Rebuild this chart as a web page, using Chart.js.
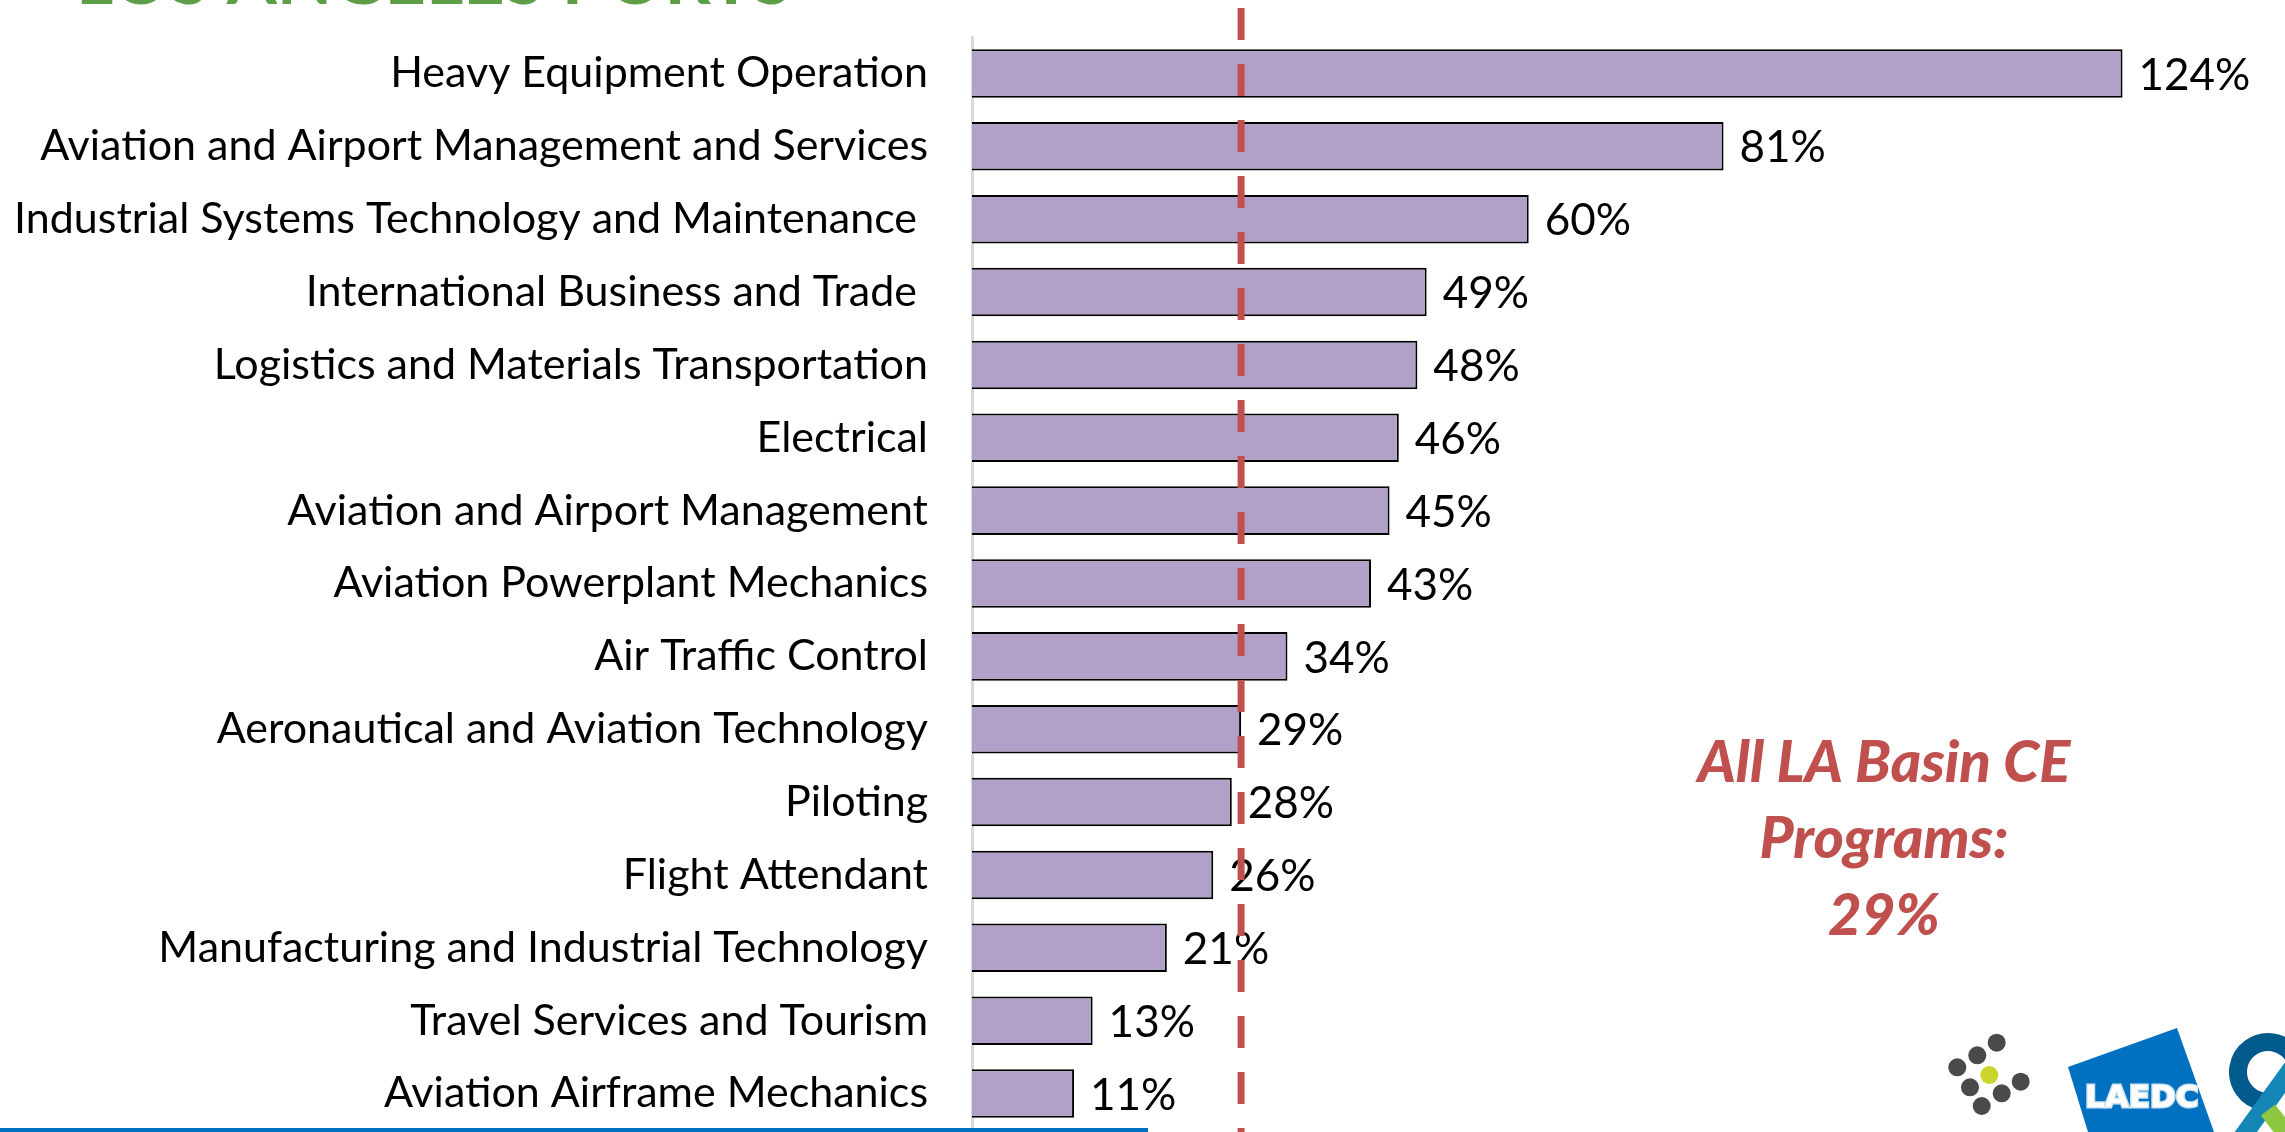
<!DOCTYPE html>
<html>
<head>
<meta charset="utf-8">
<script src="https://cdn.jsdelivr.net/npm/chart.js@4.4.1/dist/chart.umd.min.js"></script>
<style>
  html, body { margin: 0; padding: 0; background: #ffffff; }
  #wrap { width: 2285px; height: 1132px; position: relative; }
</style>
</head>
<body>
<div id="wrap"><canvas id="c" width="2285" height="1132"></canvas></div>
<script>
const categories = [
  "Heavy Equipment Operation",
  "Aviation and Airport Management and Services",
  "Industrial Systems Technology and Maintenance ",
  "International Business and Trade ",
  "Logistics and Materials Transportation",
  "Electrical",
  "Aviation and Airport Management",
  "Aviation Powerplant Mechanics",
  "Air Traffic Control",
  "Aeronautical and Aviation Technology",
  "Piloting",
  "Flight Attendant",
  "Manufacturing and Industrial Technology",
  "Travel Services and Tourism",
  "Aviation Airframe Mechanics"
];
const values = [124, 81, 60, 49, 48, 46, 45, 43, 34, 29, 28, 26, 21, 13, 11];
const averageValue = 29;
const annotationLines = ["All LA Basin CE", "Programs:", "29%"];
const titleText = "LOS ANGELES PORTS";
const logoText = "LAEDC";

const LABEL_FONT = "44px Lato";
const RED = "#C0504D";

const overlayPlugin = {
  id: "overlay",
  afterDatasetsDraw(chart) {
    const ctx = chart.ctx;
    const meta = chart.getDatasetMeta(0);
    const xs = chart.scales.x;
    ctx.save();
    ctx.font = LABEL_FONT;
    ctx.fillStyle = "#000";
    ctx.textAlign = "left";
    ctx.textBaseline = "middle";
    meta.data.forEach((bar, i) => {
      ctx.fillText(values[i] + "%", bar.x + 16, bar.y + 2);
    });
    const ax = xs.getPixelForValue(averageValue);
    ctx.strokeStyle = RED;
    ctx.lineWidth = 7;
    ctx.setLineDash([32, 24]);
    ctx.beginPath();
    ctx.moveTo(ax, 8);
    ctx.lineTo(ax, chart.height);
    ctx.stroke();
    ctx.setLineDash([]);
    ctx.restore();
  },
  afterDraw(chart) {
    const ctx = chart.ctx;
    ctx.save();
    ctx.fillStyle = RED;
    ctx.font = "italic 900 58px Lato";
    ctx.textAlign = "center";
    ctx.textBaseline = "alphabetic";
    const baseY = [782, 858, 935];
    annotationLines.forEach((t, i) => ctx.fillText(t, 1884, baseY[i]));

    ctx.fillStyle = "#5E9E46";
    ctx.font = "bold 72px Lato";
    ctx.textAlign = "right";
    ctx.fillText(titleText, 792, 4);

    ctx.fillStyle = "#0070C0";
    ctx.fillRect(0, 1128, 1148, 4);

    const dots = [
      [1996.7, 1042.7, 0], [1977.3, 1055.3, 0], [1957.3, 1067.3, 0],
      [1989.3, 1075, 1], [1970, 1087.3, 0], [2001.7, 1093.3, 0],
      [2020.7, 1081.7, 0], [1981.7, 1106, 0]
    ];
    dots.forEach(d => {
      ctx.fillStyle = d[2] ? "#C9D52A" : "#4A4A4A";
      ctx.beginPath();
      ctx.arc(d[0], d[1], 9, 0, Math.PI * 2);
      ctx.fill();
    });

    ctx.fillStyle = "#0070C0";
    ctx.beginPath();
    ctx.moveTo(2068, 1067);
    ctx.lineTo(2177, 1028);
    ctx.lineTo(2214, 1132);
    ctx.lineTo(2088, 1132);
    ctx.closePath();
    ctx.fill();
    ctx.font = "bold 31px 'DejaVu Sans'";
    ctx.textAlign = "left";
    ctx.textBaseline = "middle";
    ctx.lineWidth = 3;
    ctx.strokeStyle = "#cfe3f3";
    ctx.strokeText(logoText, 2085, 1099);
    ctx.fillStyle = "#ffffff";
    ctx.fillText(logoText, 2085, 1099);

    ctx.lineCap = "butt";
    ctx.strokeStyle = "#005A8B";
    ctx.lineWidth = 18;
    ctx.beginPath();
    ctx.arc(2268, 1072, 30, Math.PI * 0.55, Math.PI * 1.9);
    ctx.stroke();
    ctx.strokeStyle = "#1386B6";
    ctx.beginPath();
    ctx.moveTo(2292, 1068);
    ctx.lineTo(2240, 1140);
    ctx.stroke();
    ctx.strokeStyle = "#8DC63F";
    ctx.beginPath();
    ctx.moveTo(2268, 1110);
    ctx.lineTo(2288, 1136);
    ctx.stroke();
    ctx.restore();
  }
};

new Chart(document.getElementById("c"), {
  type: "bar",
  data: {
    labels: categories,
    datasets: [{
      data: values,
      backgroundColor: "#B1A0C7",
      borderColor: "#000000",
      borderWidth: 2,
      barPercentage: 0.666,
      categoryPercentage: 1.0
    }]
  },
  options: {
    indexAxis: "y",
    responsive: false,
    animation: false,
    layout: { padding: { top: 37, bottom: 2, left: 0, right: 14 } },
    plugins: { legend: { display: false }, tooltip: { enabled: false } },
    scales: {
      x: {
        display: false,
        min: 0,
        max: 140
      },
      y: {
        grid: { display: false, drawTicks: false },
        border: { display: true, color: "#D9D9D9", width: 3 },
        ticks: {
          color: "#000000",
          font: { family: "Lato", size: 43 },
          padding: 44,
          autoSkip: false
        },
        afterFit(scale) {
          scale.width = 972;
          scale.paddingTop = 0;
          scale.paddingBottom = 0;
        }
      }
    }
  },
  plugins: [overlayPlugin]
});
</script>
</body>
</html>
